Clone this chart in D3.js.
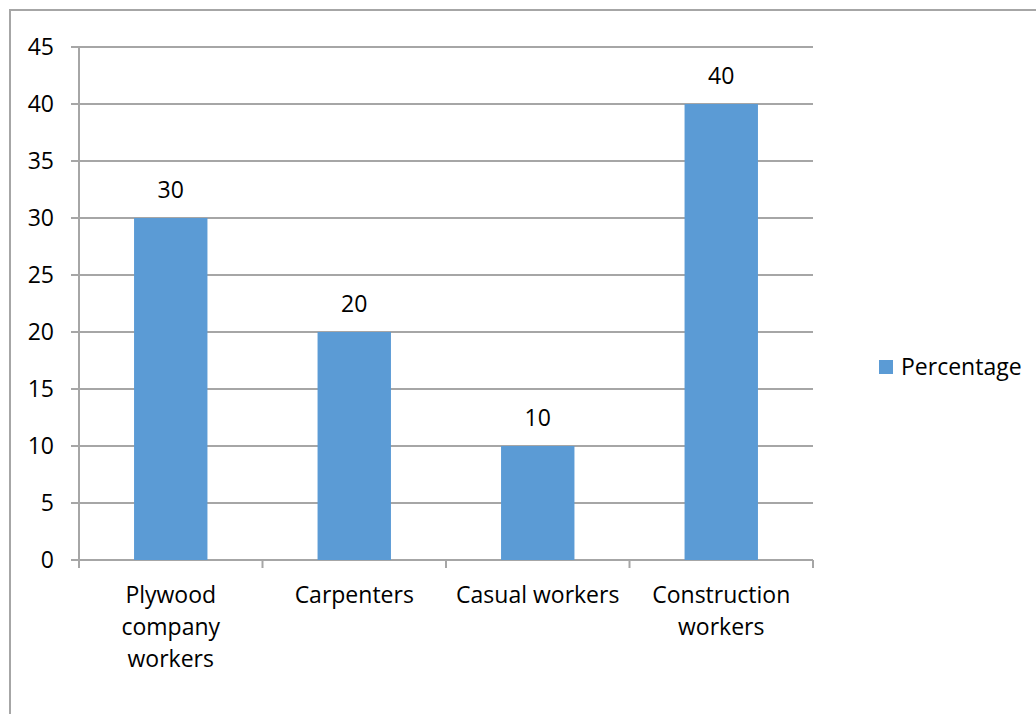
<!DOCTYPE html>
<html>
<head>
<meta charset="utf-8">
<script src="https://cdn.jsdelivr.net/npm/d3@7"></script>
<style>
	body{margin:0;background:#fff;}
	text{font-family:"Open Sans",sans-serif;fill:#000;}
</style>
</head>
<body>
<svg id="svg"></svg>
<script>
// chart data
var categories = ["Plywood company workers","Carpenters","Casual workers","Construction workers"];
var values = [30,20,10,40];
var seriesName = "Percentage";
var yTicks = [0,5,10,15,20,25,30,35,40,45];

var width = 1036, height = 714,
	plotLeft = 79, plotRight = 813, plotTop = 47, plotBottom = 560,
	fontSize = 23,
	gridColor = "#a6a6a6",
	barColor = "#5b9bd5";

var svg = d3.select("#svg").attr("width", width).attr("height", height);

// outer frame, only top and left visible
svg.append("rect")
	.attr("x", 10).attr("y", 10)
	.attr("width", width + 20).attr("height", height + 20)
	.attr("fill", "#fff").attr("stroke", gridColor).attr("stroke-width", 2);

var y = d3.scaleLinear().domain([0,45]).range([plotBottom, plotTop]);
var x = d3.scaleBand().domain(categories).range([plotLeft, plotRight])
	.paddingInner(0.6).paddingOuter(0.3);
var xEdge = d3.scaleLinear().domain([0, categories.length]).range([plotLeft, plotRight]);

// gridlines + y ticks
svg.append("g").selectAll("line").data(yTicks).enter().append("line")
	.attr("x1", plotLeft - 8).attr("x2", plotRight)
	.attr("y1", function(d){return y(d);}).attr("y2", function(d){return y(d);})
	.attr("stroke", gridColor).attr("stroke-width", 2);

svg.append("g").selectAll("text").data(yTicks).enter().append("text")
	.attr("x", 54).attr("y", function(d){return y(d);})
	.attr("dy", "0.35em")
	.attr("text-anchor", "end")
	.style("font-size", fontSize + "px")
	.text(function(d){return d;});

// y axis line
svg.append("line")
	.attr("x1", plotLeft).attr("x2", plotLeft).attr("y1", plotTop).attr("y2", plotBottom)
	.attr("stroke", gridColor).attr("stroke-width", 2);

// x ticks at category edges
svg.append("g").selectAll("line").data(d3.range(categories.length + 1)).enter().append("line")
	.attr("x1", function(d){return xEdge(d);}).attr("x2", function(d){return xEdge(d);})
	.attr("y1", plotBottom).attr("y2", plotBottom + 8)
	.attr("stroke", gridColor).attr("stroke-width", 2);

// bars
svg.append("g").selectAll("rect").data(values).enter().append("rect")
	.attr("x", function(d,i){return x(categories[i]);})
	.attr("y", function(d){return y(d);})
	.attr("width", x.bandwidth())
	.attr("height", function(d){return plotBottom - y(d);})
	.attr("fill", barColor);

// data labels
svg.append("g").selectAll("text").data(values).enter().append("text")
	.attr("x", function(d,i){return x(categories[i]) + x.bandwidth()/2;})
	.attr("y", function(d){return y(d) - 20;})
	.attr("text-anchor", "middle")
	.style("font-size", fontSize + "px")
	.text(function(d){return d;});

// category labels, wrapped
var catLabels = svg.append("g").selectAll("text").data(categories).enter().append("text")
	.attr("x", function(d){return x(d) + x.bandwidth()/2;})
	.attr("y", 603)
	.attr("text-anchor", "middle")
	.style("font-size", fontSize + "px");

catLabels.each(function(d){
	var el = d3.select(this), words = d.split(" "), line = [],
		cx = el.attr("x"),
		tspan = el.append("tspan").attr("x", cx).attr("dy", 0);
	words.forEach(function(w){
		line.push(w);
		tspan.text(line.join(" "));
		if(tspan.node().getComputedTextLength() > 176 && line.length > 1){
			line.pop();
			tspan.text(line.join(" "));
			line = [w];
			tspan = el.append("tspan").attr("x", cx).attr("dy", 32).text(w);
		}
	});
});

// legend
var legend = svg.append("g");
legend.append("rect")
	.attr("x", 879).attr("y", 360).attr("width", 14).attr("height", 14)
	.attr("fill", barColor);
legend.append("text")
	.attr("x", 901).attr("y", 375)
	.style("font-size", fontSize + "px")
	.text(seriesName);
</script>
</body>
</html>
